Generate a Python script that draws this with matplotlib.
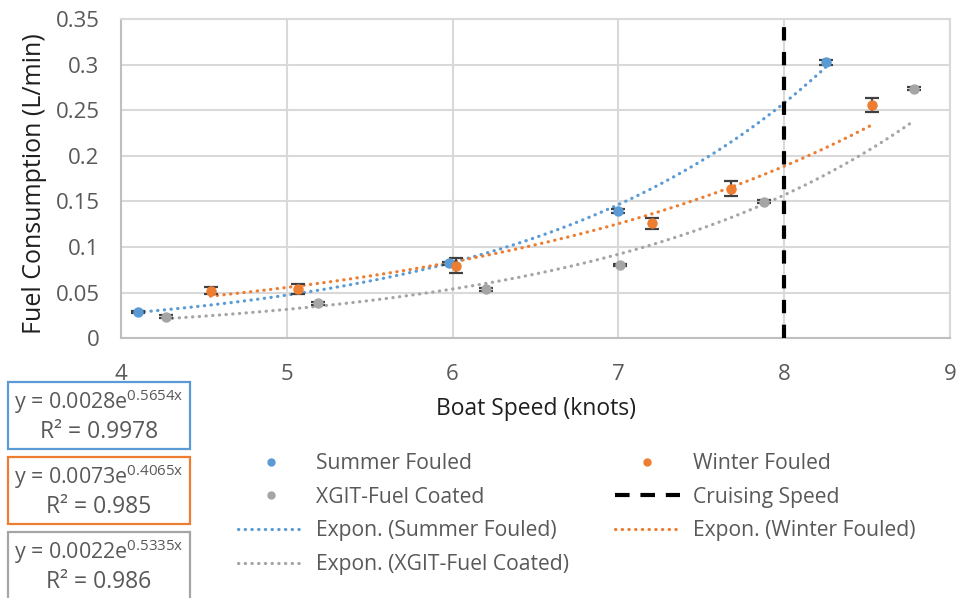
import numpy as np
import matplotlib
matplotlib.use("Agg")
import matplotlib.pyplot as plt
from matplotlib.lines import Line2D
from matplotlib.patches import Rectangle

plt.rcParams['font.family'] = ['Open Sans', 'DejaVu Sans']
plt.rcParams['mathtext.fontset'] = 'custom'
plt.rcParams['mathtext.rm'] = 'Open Sans'
plt.rcParams['mathtext.it'] = 'Open Sans'

# measured speeds (knots) and fuel use (L/min) with error bars
summer_speed = [4.10, 5.98, 7.00, 8.25]
summer_fuel = [0.0285, 0.082, 0.1395, 0.3026]
summer_err = [0.0012, 0.002, 0.002, 0.003]

winter_speed = [4.54, 5.07, 6.02, 7.20, 7.68, 8.53]
winter_fuel = [0.0522, 0.0544, 0.0796, 0.126, 0.164, 0.2554]
winter_err = [0.004, 0.0055, 0.008, 0.0057, 0.008, 0.0077]

xgit_speed = [4.27, 5.19, 6.20, 7.01, 7.88, 8.78]
xgit_fuel = [0.0237, 0.0384, 0.0537, 0.0803, 0.1498, 0.2736]
xgit_err = [0.0015, 0.0015, 0.0015, 0.0015, 0.0015, 0.0015]

cruise_speed = 8.0

# exponential trendline fits y = a*exp(b*x)
fit_a = [0.0028, 0.0073, 0.0022]
fit_b = [0.5654, 0.4065, 0.5335]
fit_r2 = ['0.9978', '0.985', '0.986']

series_names = ['Summer Fouled', 'Winter Fouled', 'XGIT-Fuel Coated']
colors = ['#5B9BD5', '#ED7D31', '#A5A5A5']

W, H = 959, 598
fig = plt.figure(figsize=(W / 100, H / 100), dpi=100)
ax = fig.add_axes([121 / W, 1 - 338.3 / H, 829 / W, 319.3 / H])

grid_c = '#d9d9d9'
tick_c = '#595959'
err_c = '#404040'

speeds = [summer_speed, winter_speed, xgit_speed]
fuels = [summer_fuel, winter_fuel, xgit_fuel]
errs = [summer_err, winter_err, xgit_err]

for s, f, e, c in zip(speeds, fuels, errs, colors):
    ax.errorbar(s, f, yerr=e, fmt='o', color=c, ms=6.5, mec=c,
                ecolor=err_c, elinewidth=1.6, capsize=4.8, capthick=1.6,
                zorder=4)

# trendlines over each data range
dots = dict(lw=2.3, linestyle=(0, (0.1, 2.0)), dash_capstyle='round')
for s, a, b, c in zip(speeds, fit_a, fit_b, colors):
    xs = np.linspace(min(s), max(s), 200)
    ax.plot(xs, a * np.exp(b * xs), color=c, zorder=3, **dots)

dashes = dict(color='black', lw=3, linestyle=(0, (3.2, 2.75)))
ax.plot([cruise_speed, cruise_speed], [0, 0.35], zorder=5, **dashes)

ax.set_xlim(4, 9)
ax.set_ylim(0, 0.35)
ax.set_xticks([4, 5, 6, 7, 8, 9])
ax.set_yticks([0, 0.05, 0.1, 0.15, 0.2, 0.25, 0.3, 0.35])
ax.set_yticklabels(['0', '0.05', '0.1', '0.15', '0.2', '0.25', '0.3', '0.35'])
ax.grid(True, color=grid_c, lw=1.5)
ax.set_axisbelow(True)
for sp in ax.spines.values():
    sp.set_color(grid_c)
    sp.set_linewidth(1.5)
ax.spines['left'].set_color('#bfbfbf')
ax.spines['bottom'].set_color('#bfbfbf')
ax.tick_params(axis='both', length=0, labelsize=16, colors=tick_c)
ax.tick_params(axis='x', pad=18.5)
ax.tick_params(axis='y', pad=15.5)

ax.set_xlabel('Boat Speed (knots)', fontsize=16.5, color='#1f1f1f')
ax.xaxis.set_label_coords(0.5, -0.221)
ax.xaxis.label.set_va('center')
ax.set_ylabel('Fuel Consumption (L/min)', fontsize=18, color='#1f1f1f')
ax.yaxis.set_label_coords(-0.104, 0.485)
ax.yaxis.label.set_va('center')

# legend, filled column by column
h_s = Line2D([], [], marker='o', ls='none', color=colors[0], ms=5)
h_w = Line2D([], [], marker='o', ls='none', color=colors[1], ms=5)
h_x = Line2D([], [], marker='o', ls='none', color=colors[2], ms=5)
h_c = Line2D([], [], color='black', lw=3, linestyle=(0, (3.5, 2.6)))
h_es = Line2D([], [], color=colors[0], **dots)
h_ew = Line2D([], [], color=colors[1], **dots)
h_ex = Line2D([], [], color=colors[2], **dots)
handles = [h_s, h_x, h_es, h_ex, h_w, h_c, h_ew]
labels = [series_names[0], series_names[2],
          'Expon. (' + series_names[0] + ')', 'Expon. (' + series_names[2] + ')',
          series_names[1], 'Cruising Speed', 'Expon. (' + series_names[1] + ')']
leg = fig.legend(handles, labels, ncol=2, loc='upper left',
                 bbox_to_anchor=(238 / W, 1 - 453 / H), frameon=False,
                 fontsize=15.2, handlelength=3.1, handletextpad=0.6,
                 columnspacing=2.15, labelspacing=0.6, borderpad=0,
                 borderaxespad=0)
for t in leg.get_texts():
    t.set_color(tick_c)

# trendline equation boxes
box_tops = [382, 457, 532]
for top, a, b, r2, c in zip(box_tops, fit_a, fit_b, fit_r2, colors):
    fig.patches.append(Rectangle((8 / W, 1 - (top + 67) / H), 182 / W, 67 / H,
                                 transform=fig.transFigure, fill=False,
                                 edgecolor=c, lw=1.6, clip_on=False))
    eq = 'y = %.4fe$^{%.4fx}$' % (a, b)
    fig.text(99 / W, 1 - (top + 20) / H, eq, ha='center', va='center',
             fontsize=15.4, color=tick_c)
    fig.text(99 / W, 1 - (top + 50) / H, 'R\u00b2 = ' + r2, ha='center',
             va='center', fontsize=16.5, color=tick_c)

fig.savefig('out.png', dpi=100)
